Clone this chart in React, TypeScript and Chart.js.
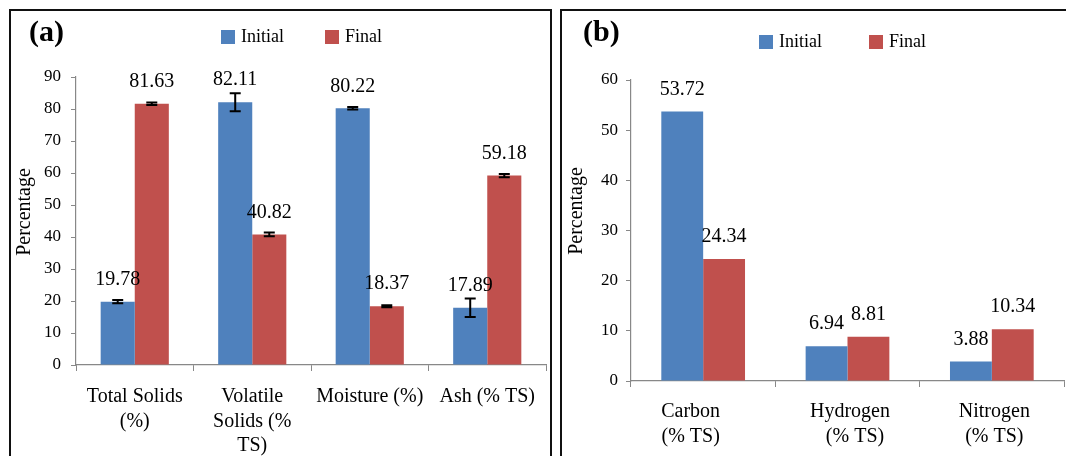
import React, { useEffect, useRef } from "react";
import { Chart, registerables } from "chart.js";

Chart.register(...registerables);

// ---------- Data ----------
const seriesNames = ["Initial", "Final"];
const seriesColors = ["#4F81BD", "#C0504D"];

const categoriesA = [
  ["Total Solids", "(%)"],
  ["Volatile", "Solids (%", "TS)"],
  ["Moisture (%)"],
  ["Ash (% TS)"],
];
const initialA = [19.78, 82.11, 80.22, 17.89];
const finalA = [81.63, 40.82, 18.37, 59.18];
const initialErrA = [0.5, 2.8, 0.4, 2.9];
const finalErrA = [0.4, 0.6, 0.3, 0.5];

const categoriesB = [
  ["Carbon     ", "(% TS)     "],
  [" Hydrogen", "   (% TS)"],
  [" Nitrogen", " (% TS)"],
];
const initialB = [53.72, 6.94, 3.88];
const finalB = [24.34, 8.81, 10.34];

const yTicksA = { min: 0, max: 90, step: 10 };
const yTicksB = { min: 0, max: 60, step: 10 };

const SERIF = "'Liberation Serif', 'Times New Roman', serif";

type PanelProps = {
  tag: string;
  categories: string[][];
  initial: number[];
  final: number[];
  initialErr: number[];
  finalErr: number[];
  yRange: { min: number; max: number; step: number };
  width: number;
  height: number;
  left: number;
  top: number;
  yAxisWidth: number;
  xAxisHeight: number;
  padRight: number;
  padTop: number;
  tickPad: number;
  xTickPad: number;
  tagPos: [number, number];
  legendPos: [number, number, number];
  titlePos: [number, number];
};

function Panel(p: PanelProps) {
  const ref = useRef<HTMLCanvasElement | null>(null);
  useEffect(() => {
    if (!ref.current) return;
    const errs = [p.initialErr, p.finalErr];
    const decor = {
      id: "decor",
      afterDatasetsDraw(chart: any) {
        const ctx = chart.ctx;
        const ys = chart.scales.y;
        ctx.save();
        // error bars
        ctx.strokeStyle = "#000";
        ctx.lineWidth = 2;
        chart.data.datasets.forEach((ds: any, i: number) => {
          const meta = chart.getDatasetMeta(i);
          const e = errs[i];
          meta.data.forEach((el: any, j: number) => {
            if (!e || e[j] == null) return;
            const v = ds.data[j];
            const yt = ys.getPixelForValue(v + e[j]);
            const yb = ys.getPixelForValue(v - e[j]);
            ctx.beginPath();
            ctx.moveTo(el.x, yt);
            ctx.lineTo(el.x, yb);
            ctx.moveTo(el.x - 5.5, yt);
            ctx.lineTo(el.x + 5.5, yt);
            ctx.moveTo(el.x - 5.5, yb);
            ctx.lineTo(el.x + 5.5, yb);
            ctx.stroke();
          });
        });
        // value labels
        ctx.fillStyle = "#000";
        ctx.font = `20px ${SERIF}`;
        ctx.textAlign = "center";
        ctx.textBaseline = "middle";
        chart.data.datasets.forEach((ds: any, i: number) => {
          const meta = chart.getDatasetMeta(i);
          meta.data.forEach((el: any, j: number) => {
            ctx.fillText(ds.data[j].toFixed(2), el.x, el.y - 22);
          });
        });
        // panel tag
        ctx.font = `bold 30px ${SERIF}`;
        ctx.textAlign = "left";
        ctx.fillText(p.tag, p.tagPos[0], p.tagPos[1]);
        // legend
        ctx.font = `18px ${SERIF}`;
        const [lx, ly, gap] = p.legendPos;
        chart.data.datasets.forEach((ds: any, i: number) => {
          const x = lx + i * gap;
          ctx.fillStyle = ds.backgroundColor;
          ctx.fillRect(x, ly - 7, 14, 14);
          ctx.fillStyle = "#000";
          ctx.fillText(ds.label, x + 20, ly);
        });
        // y title
        ctx.translate(p.titlePos[0], p.titlePos[1]);
        ctx.rotate(-Math.PI / 2);
        ctx.textAlign = "center";
        ctx.font = `20px ${SERIF}`;
        ctx.fillText("Percentage", 0, 0);
        ctx.restore();
      },
    };
    const chart = new Chart(ref.current, {
      type: "bar",
      data: {
        labels: p.categories,
        datasets: [
          { label: seriesNames[0], data: p.initial, backgroundColor: seriesColors[0] },
          { label: seriesNames[1], data: p.final, backgroundColor: seriesColors[1] },
        ],
      },
      options: {
        responsive: false,
        animation: false,
        layout: { padding: { left: 0, right: p.padRight, top: p.padTop, bottom: 0 } },
        datasets: { bar: { categoryPercentage: 0.58, barPercentage: 1.0, borderWidth: 0 } },
        plugins: { legend: { display: false }, title: { display: false }, tooltip: { enabled: false } },
        scales: {
          x: {
            afterFit: (s: any) => {
              s.height = p.xAxisHeight;
            },
            grid: { drawOnChartArea: false, drawTicks: true, tickLength: 6, color: "#888", offset: true },
            border: { display: true, color: "#888", width: 1.2 },
            ticks: {
              autoSkip: false,
              maxRotation: 0,
              minRotation: 0,
              padding: p.xTickPad,
              color: "#000",
              font: { family: SERIF, size: 20, lineHeight: 1.22 },
            },
          },
          y: {
            min: p.yRange.min,
            max: p.yRange.max,
            afterFit: (s: any) => {
              s.width = p.yAxisWidth;
            },
            grid: { drawOnChartArea: false, drawTicks: true, tickLength: 5, color: "#888" },
            border: { display: true, color: "#888", width: 1.2 },
            ticks: {
              stepSize: p.yRange.step,
              padding: p.tickPad,
              color: "#000",
              font: { family: SERIF, size: 17 },
            },
          },
        },
      },
      plugins: [decor],
    } as any);
    return () => chart.destroy();
  }, []);
  return (
    <canvas
      ref={ref}
      width={p.width}
      height={p.height}
      style={{ position: "absolute", left: p.left, top: p.top, width: p.width, height: p.height }}
    />
  );
}

export default function App() {
  return (
    <div
      style={{
        position: "fixed",
        left: 0,
        top: 0,
        width: 1066,
        height: 456,
        overflow: "hidden",
        background: "#fff",
      }}
    >
      <div
        style={{
          position: "absolute",
          left: 9,
          top: 9,
          width: 543,
          height: 480,
          border: "2px solid #111",
          boxSizing: "border-box",
        }}
      />
      <div
        style={{
          position: "absolute",
          left: 560,
          top: 9,
          width: 600,
          height: 480,
          border: "2px solid #111",
          boxSizing: "border-box",
        }}
      />
      <Panel
        tag="(a)"
        categories={categoriesA}
        initial={initialA}
        final={finalA}
        initialErr={initialErrA}
        finalErr={finalErrA}
        yRange={yTicksA}
        width={541}
        height={446}
        left={10}
        top={10}
        yAxisWidth={66}
        xAxisHeight={91}
        padRight={5}
        padTop={67}
        tickPad={10}
        xTickPad={14}
        tagPos={[19, 23]}
        legendPos={[211, 27, 104]}
        titlePos={[15, 202]}
      />
      <Panel
        tag="(b)"
        categories={categoriesB}
        initial={initialB}
        final={finalB}
        initialErr={[]}
        finalErr={[]}
        yRange={yTicksB}
        width={505}
        height={446}
        left={561}
        top={10}
        yAxisWidth={70}
        xAxisHeight={75}
        padRight={2}
        padTop={70}
        tickPad={8}
        xTickPad={13}
        tagPos={[22, 23]}
        legendPos={[198, 32, 110]}
        titlePos={[16, 201]}
      />
    </div>
  );
}
